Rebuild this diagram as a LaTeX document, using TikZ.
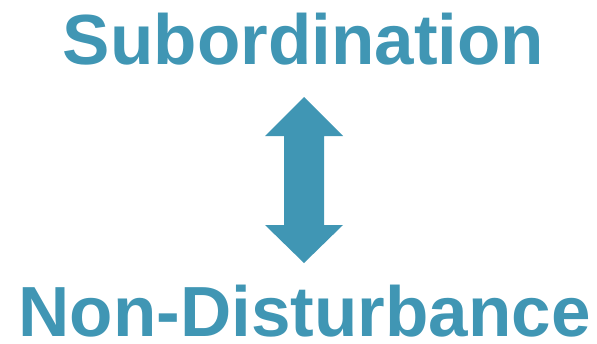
\documentclass[tikz,border=0pt]{standalone}
\usepackage{fontspec}
\setmainfont{Liberation Sans}
\definecolor{teal1}{RGB}{64,150,180}
\begin{document}
\begin{tikzpicture}[x=1pt,y=-1pt,
  lbl/.style={text=teal1,font=\fontsize{71}{71}\selectfont\bfseries,inner sep=0pt,anchor=base,text depth=0pt,text height=52pt}]
\useasboundingbox (0,0) rectangle (597,343);
\node[lbl] (top) at (303.5,64) {Subordination};
\node[lbl] (bot) at (304.5,336) {Non-Disturbance};
\fill[teal1] (304,97) -- (343,136) -- (324,136) -- (324,225) -- (343,225) -- (304,263)
  -- (265,225) -- (284,225) -- (284,136) -- (265,136) -- cycle;
\end{tikzpicture}
\end{document}
